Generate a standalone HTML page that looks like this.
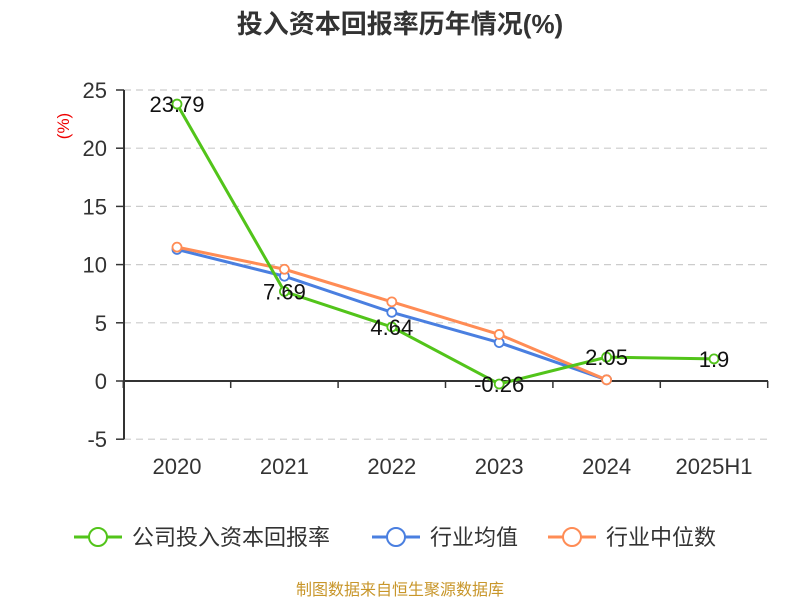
<!DOCTYPE html>
<html><head><meta charset="utf-8"><style>
body{margin:0;background:#fff}
text{font-family:"Liberation Sans","Noto Sans CJK SC",sans-serif}
</style></head><body>
<svg id="c" width="800" height="600">
<text x="400" y="33" text-anchor="middle" font-size="26" font-weight="bold" fill="#333">投入资本回报率历年情况(%)</text>
<text transform="translate(69,126) rotate(-90)" text-anchor="middle" font-size="17" fill="#e00">(%)</text>
<g id="grid"></g><g id="axes"></g><g id="series"></g>
<g>
<g><line x1="74" y1="537" x2="122" y2="537" stroke="#52c41a" stroke-width="3"/><circle cx="98" cy="537" r="9" fill="#fff" stroke="#52c41a" stroke-width="2"/><text x="132" y="545" font-size="22" fill="#333">公司投入资本回报率</text></g>
<g><line x1="372" y1="537" x2="420" y2="537" stroke="#4a7fe0" stroke-width="3"/><circle cx="396" cy="537" r="9" fill="#fff" stroke="#4a7fe0" stroke-width="2"/><text x="430" y="545" font-size="22" fill="#333">行业均值</text></g>
<g><line x1="548" y1="537" x2="596" y2="537" stroke="#ff8c55" stroke-width="3"/><circle cx="572" cy="537" r="9" fill="#fff" stroke="#ff8c55" stroke-width="2"/><text x="606" y="545" font-size="22" fill="#333">行业中位数</text></g>
</g>
<text x="400" y="595" text-anchor="middle" font-size="16" fill="#c8962a">制图数据来自恒生聚源数据库</text>
</svg>
<script>
const categories=["2020","2021","2022","2023","2024","2025H1"];
const company=[23.79,7.69,4.64,-0.26,2.05,1.9];
const industryAvg=[11.3,9.0,5.9,3.3,0.1,null];
const industryMedian=[11.5,9.6,6.8,4.0,0.1,null];
const yTicks=[-5,0,5,10,15,20,25];
const ns="http://www.w3.org/2000/svg";
function X(i){return 177+i*107.4;}
function Y(v){return 381-v*11.64;}
function mk(tag,attrs,parent){const e=document.createElementNS(ns,tag);for(const k in attrs)e.setAttribute(k,attrs[k]);document.getElementById(parent).appendChild(e);return e;}
yTicks.forEach(t=>{
  if(t!==0){const g=mk('line',{x1:124,x2:768,y1:Y(t),y2:Y(t),stroke:'#ccc','stroke-dasharray':'7,5','stroke-width':1.2},'grid');
  
  }
  const tk=mk('line',{x1:116,x2:124,y1:Y(t),y2:Y(t),stroke:'#333','stroke-width':1.5},'axes');
  
  
  const l=mk('text',{x:107,y:Y(t)+8,'text-anchor':'end','font-size':22,fill:'#333'},'axes');l.textContent=t;
  
  
});
const ya=mk('line',{x1:124,x2:124,y1:Y(25),y2:Y(-5),stroke:'#333','stroke-width':2},'axes');


const xa=mk('line',{x1:124,x2:768,y1:Y(0),y2:Y(0),stroke:'#333','stroke-width':2},'axes');


for(let i=0;i<=categories.length;i++){const tk=mk('line',{x1:X(i)-53.7,x2:X(i)-53.7,y1:Y(0),y2:Y(0)+7,stroke:'#333','stroke-width':1.5},'axes');
  
  }
categories.forEach((c,i)=>{const l=mk('text',{x:X(i),y:474,'text-anchor':'middle','font-size':22,fill:'#333'},'axes');l.textContent=c;
  
  });
function series(data,color,name,labels){
  const pts=data.map((v,i)=>v==null?null:[X(i),Y(v)]).filter(p=>p);
  const p=mk('polyline',{points:pts.map(p=>p.join(',')).join(' '),fill:'none',stroke:color,'stroke-width':3},'series');
  
  
  data.forEach((v,i)=>{if(v==null)return;
    const c=mk('circle',{cx:X(i),cy:Y(v),r:4.5,fill:'#fff',stroke:color,'stroke-width':1.8},'series');
    
    
    if(labels){const t=mk('text',{x:X(i),y:Y(v)+8,'text-anchor':'middle','font-size':22,fill:'#111'},'series');t.textContent=v;
      
      }
  });
}
series(industryAvg,'#4a7fe0','industry-avg',false);
series(industryMedian,'#ff8c55','industry-median',false);
series(company,'#52c41a','company',true);
</script>
</body></html>
